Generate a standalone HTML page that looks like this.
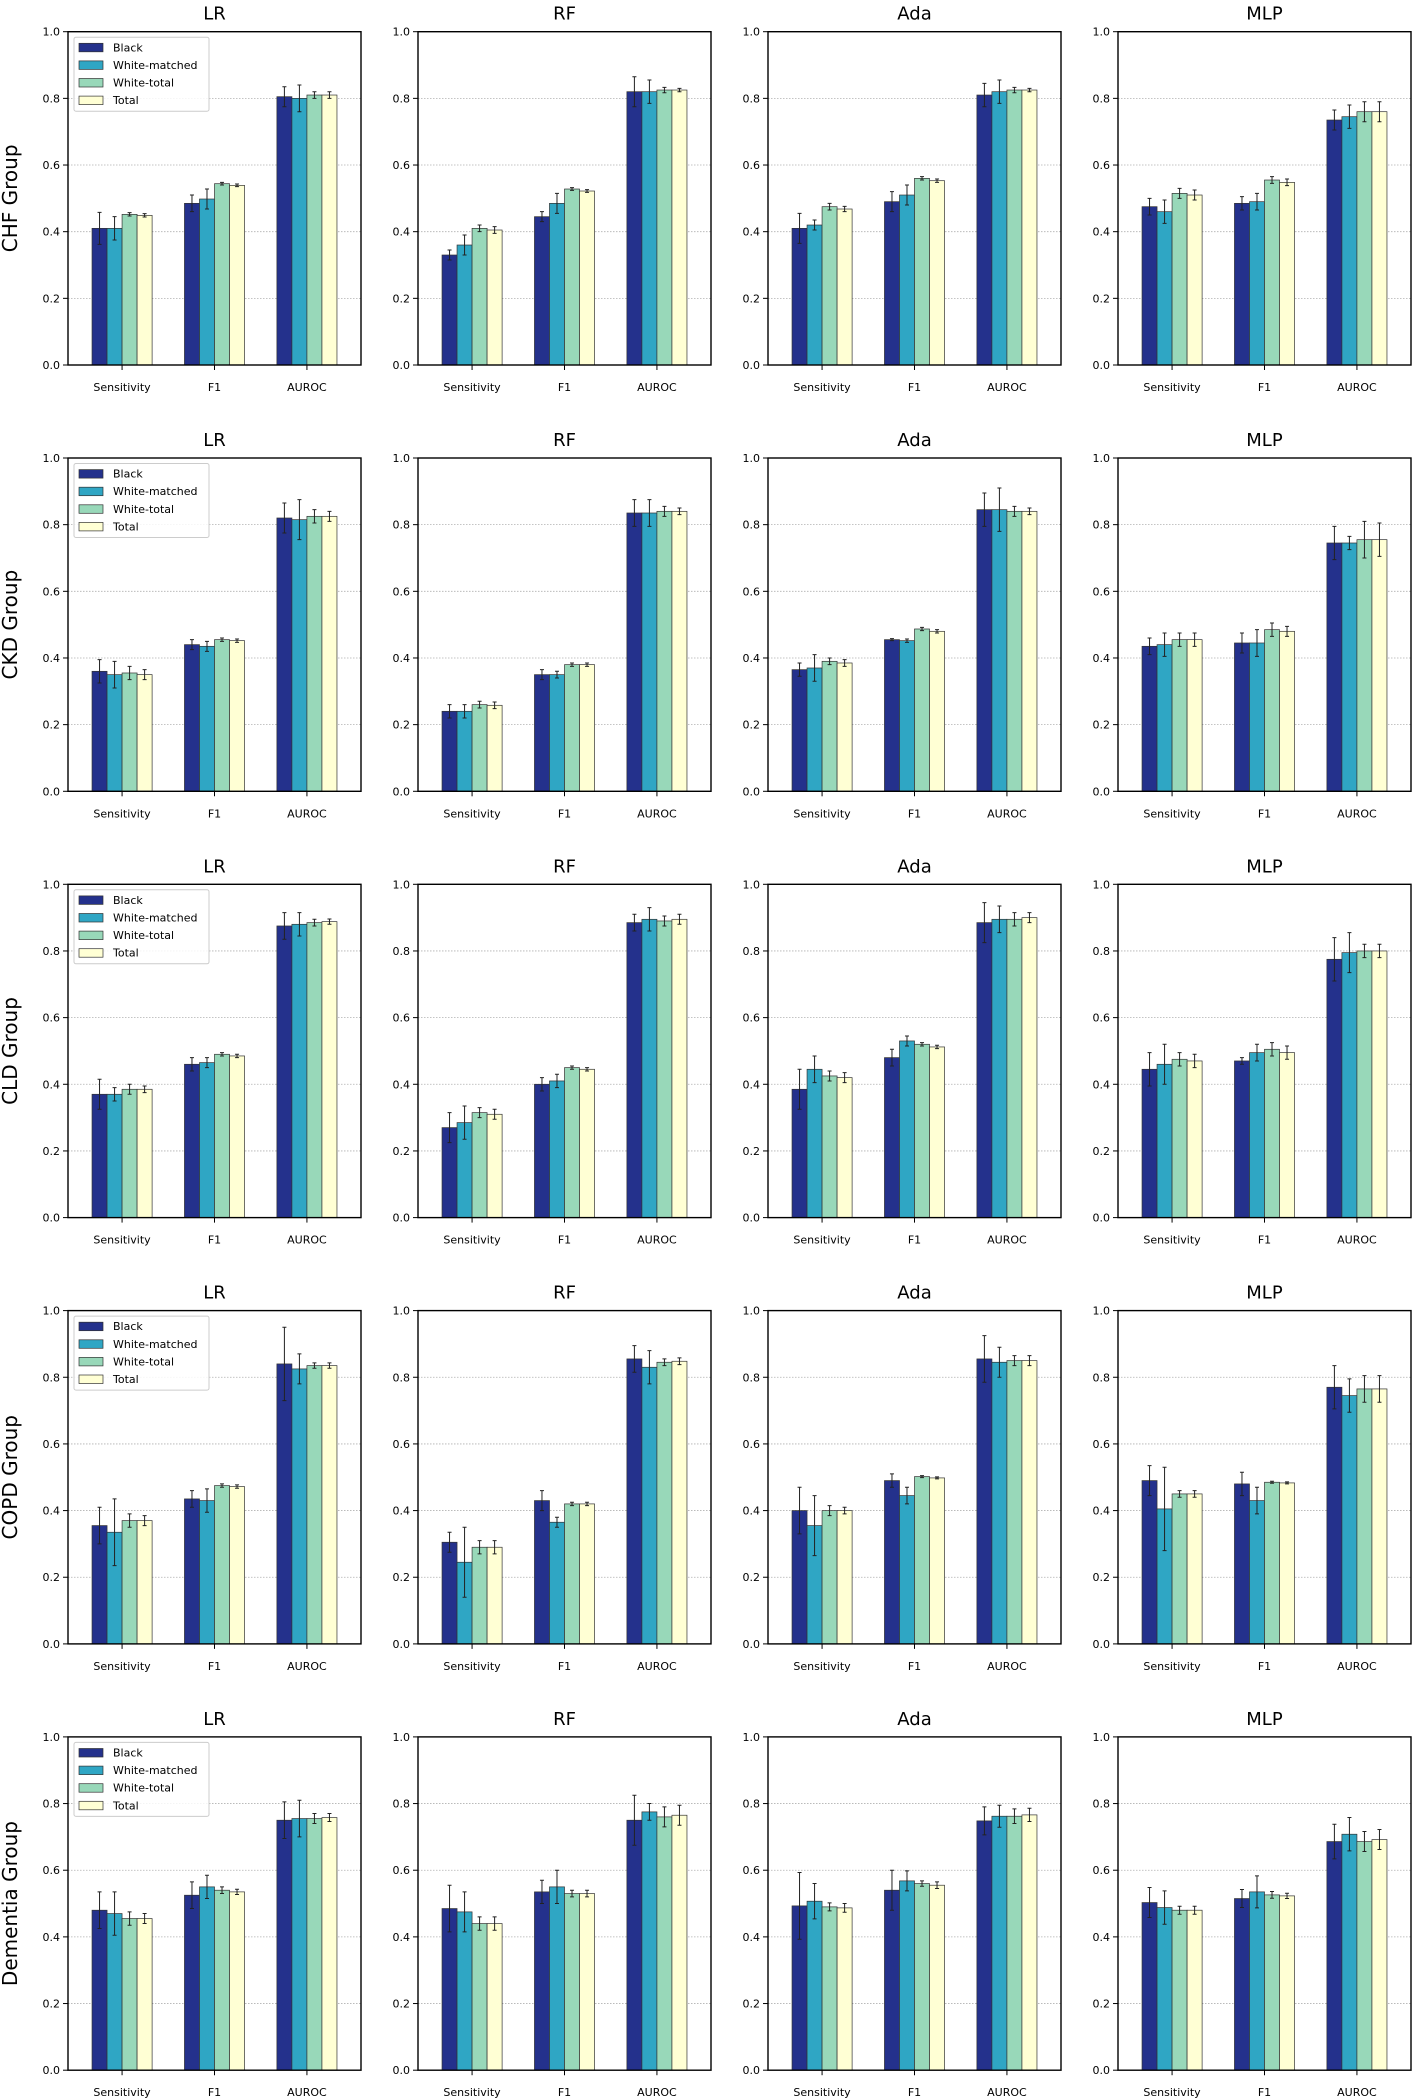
<!DOCTYPE html>
<html><head><meta charset="utf-8">
<style>
html,body{margin:0;padding:0;background:#fff;}
svg{display:block;font-family:"DejaVu Sans","Liberation Sans",sans-serif;}
</style></head>
<body>
<svg id="chart" width="1413" height="2100" viewBox="0 0 1413 2100" xmlns="http://www.w3.org/2000/svg"></svg>
<script>
const groups = ["CHF Group","CKD Group","CLD Group","COPD Group","Dementia Group"];
const models = ["LR","RF","Ada","MLP"];
const metrics = ["Sensitivity","F1","AUROC"];
const series = ["Black","White-matched","White-total","Total"];
const yTicks = [0,0.2,0.4,0.6,0.8,1.0];
const yTickLabels = ["0.0","0.2","0.4","0.6","0.8","1.0"];
// values[model][metric][series]
const chfValues = [
 [[0.41,0.41,0.452,0.449],[0.485,0.498,0.544,0.539],[0.805,0.80,0.81,0.81]],
 [[0.33,0.36,0.41,0.405],[0.445,0.485,0.528,0.522],[0.82,0.82,0.825,0.825]],
 [[0.41,0.42,0.475,0.468],[0.49,0.51,0.56,0.553],[0.81,0.82,0.825,0.825]],
 [[0.475,0.46,0.515,0.51],[0.485,0.49,0.555,0.548],[0.735,0.745,0.76,0.76]]];
const chfErrors = [
 [[0.048,0.035,0.005,0.005],[0.025,0.03,0.004,0.004],[0.03,0.04,0.01,0.01]],
 [[0.015,0.03,0.01,0.01],[0.015,0.03,0.004,0.004],[0.045,0.035,0.008,0.005]],
 [[0.045,0.015,0.01,0.008],[0.03,0.03,0.005,0.005],[0.035,0.035,0.008,0.005]],
 [[0.025,0.035,0.015,0.015],[0.02,0.025,0.01,0.01],[0.03,0.035,0.03,0.03]]];
const ckdValues = [
 [[0.36,0.35,0.355,0.35],[0.44,0.435,0.455,0.452],[0.82,0.815,0.825,0.825]],
 [[0.24,0.24,0.26,0.258],[0.35,0.35,0.38,0.38],[0.835,0.835,0.84,0.84]],
 [[0.365,0.37,0.39,0.385],[0.455,0.452,0.487,0.48],[0.845,0.845,0.84,0.84]],
 [[0.435,0.44,0.455,0.455],[0.445,0.445,0.485,0.48],[0.745,0.745,0.755,0.755]]];
const ckdErrors = [
 [[0.035,0.04,0.02,0.015],[0.015,0.015,0.005,0.005],[0.045,0.06,0.02,0.015]],
 [[0.02,0.02,0.01,0.01],[0.015,0.01,0.005,0.005],[0.04,0.04,0.015,0.01]],
 [[0.02,0.04,0.01,0.01],[0.003,0.005,0.005,0.005],[0.05,0.065,0.015,0.01]],
 [[0.025,0.035,0.02,0.02],[0.03,0.04,0.02,0.015],[0.05,0.02,0.055,0.05]]];
const cldValues = [
 [[0.37,0.37,0.385,0.385],[0.46,0.465,0.49,0.485],[0.875,0.88,0.885,0.888]],
 [[0.27,0.285,0.315,0.31],[0.40,0.41,0.45,0.445],[0.885,0.895,0.89,0.895]],
 [[0.385,0.445,0.425,0.42],[0.48,0.53,0.52,0.512],[0.885,0.895,0.895,0.9]],
 [[0.445,0.46,0.475,0.47],[0.47,0.495,0.505,0.495],[0.775,0.795,0.8,0.8]]];
const cldErrors = [
 [[0.045,0.02,0.015,0.01],[0.02,0.015,0.005,0.005],[0.04,0.035,0.01,0.008]],
 [[0.045,0.05,0.015,0.015],[0.02,0.02,0.005,0.005],[0.025,0.035,0.015,0.015]],
 [[0.06,0.04,0.015,0.015],[0.025,0.015,0.005,0.005],[0.06,0.04,0.02,0.015]],
 [[0.05,0.06,0.02,0.02],[0.01,0.025,0.02,0.02],[0.065,0.06,0.02,0.02]]];
const copdValues = [
 [[0.355,0.335,0.37,0.37],[0.435,0.43,0.475,0.472],[0.84,0.825,0.835,0.835]],
 [[0.305,0.245,0.29,0.29],[0.43,0.365,0.42,0.42],[0.855,0.83,0.845,0.848]],
 [[0.40,0.355,0.40,0.40],[0.49,0.445,0.502,0.498],[0.855,0.845,0.85,0.85]],
 [[0.49,0.405,0.45,0.45],[0.48,0.43,0.485,0.483],[0.77,0.745,0.765,0.765]]];
const copdErrors = [
 [[0.055,0.1,0.02,0.015],[0.025,0.035,0.005,0.005],[0.11,0.045,0.008,0.008]],
 [[0.03,0.105,0.02,0.02],[0.03,0.015,0.005,0.005],[0.04,0.05,0.01,0.01]],
 [[0.07,0.09,0.015,0.01],[0.02,0.025,0.003,0.003],[0.07,0.045,0.015,0.015]],
 [[0.045,0.125,0.01,0.01],[0.035,0.04,0.003,0.003],[0.065,0.05,0.04,0.04]]];
const dementiaValues = [
 [[0.48,0.47,0.455,0.455],[0.525,0.55,0.54,0.535],[0.75,0.755,0.755,0.758]],
 [[0.485,0.475,0.44,0.44],[0.535,0.55,0.53,0.53],[0.75,0.775,0.76,0.765]],
 [[0.493,0.507,0.49,0.487],[0.54,0.568,0.56,0.555],[0.748,0.762,0.762,0.766]],
 [[0.503,0.488,0.48,0.48],[0.515,0.535,0.526,0.523],[0.686,0.708,0.686,0.692]]];
const dementiaErrors = [
 [[0.055,0.065,0.02,0.015],[0.04,0.035,0.01,0.008],[0.055,0.055,0.015,0.012]],
 [[0.07,0.06,0.02,0.02],[0.035,0.05,0.01,0.01],[0.075,0.025,0.03,0.03]],
 [[0.1,0.053,0.012,0.013],[0.06,0.03,0.008,0.01],[0.042,0.033,0.022,0.02]],
 [[0.045,0.05,0.012,0.012],[0.027,0.048,0.01,0.008],[0.052,0.05,0.03,0.03]]];
const allValues = [chfValues,ckdValues,cldValues,copdValues,dementiaValues];
const allErrors = [chfErrors,ckdErrors,cldErrors,copdErrors,dementiaErrors];
const colors = ["#24318c","#2fa6c4","#98d8b9","#ffffd4"];

const NS = "http://www.w3.org/2000/svg";
const svg = document.getElementById("chart");
function mk(tag, attrs, parent, text){
  const e = document.createElementNS(NS, tag);
  for (const k in attrs) e.setAttribute(k, attrs[k]);
  if (text !== undefined) e.textContent = text;
  (parent||svg).appendChild(e);
  return e;
}
const colLeft = [68,418,768,1118], axW = 293, axH = 333.3;
const rowTop = r => 31.7 + r*426.3;
const xMin = -0.585, xMax = 2.585, barW = 0.1625;

groups.forEach((gname, r) => {
  const top = rowTop(r), bottom = top + axH;
  const yS = v => bottom - v*axH;
  models.forEach((mname, m) => {
    const left = colLeft[m];
    const xS = v => left + (v - xMin)/(xMax - xMin)*axW;
    const g = mk("g", {});
    
    
    // grid
    yTicks.forEach((t,i) => {
      if (t>0 && t<1) {
        const gl = mk("line",{x1:left,x2:left+axW,y1:yS(t),y2:yS(t),stroke:"#b0b0b0","stroke-width":0.8,"stroke-dasharray":"1.5,1.5"},g);
        
        
      }
      const tk = mk("line",{x1:left-5,x2:left,y1:yS(t),y2:yS(t),stroke:"#000","stroke-width":1},g);
      
      
      const tl = mk("text",{x:left-8,y:yS(t)+4,"text-anchor":"end","font-size":11,fill:"#000"},g,yTickLabels[i]);
      
      
    });
    // bars
    metrics.forEach((met, k) => {
      series.forEach((s, j) => {
        const v = allValues[r][m][k][j], e = allErrors[r][m][k][j];
        const xc = k + (j-1.5)*barW;
        const x0 = xS(xc - barW/2), x1 = xS(xc + barW/2);
        const b = mk("rect",{x:x0,y:yS(v),width:x1-x0,height:bottom-yS(v),fill:colors[j],stroke:"#333","stroke-width":0.7},g);
        
        
        const cx = xS(xc);
        const eb = mk("path",{d:`M${cx},${yS(v+e)}V${yS(v-e)}M${cx-2},${yS(v+e)}H${cx+2}M${cx-2},${yS(v-e)}H${cx+2}`,stroke:"#222","stroke-width":1,fill:"none"},g);
        
        
      });
      const xt = mk("line",{x1:xS(k),x2:xS(k),y1:bottom,y2:bottom+5,stroke:"#000","stroke-width":1},g);
      
      
      const xl = mk("text",{x:xS(k),y:bottom+26,"text-anchor":"middle","font-size":11,fill:"#000"},g,met);
      
      
    });
    const fr = mk("rect",{x:left,y:top,width:axW,height:axH,fill:"none",stroke:"#000","stroke-width":1.4},g);
    
    
    const ti = mk("text",{x:left+axW/2,y:top-12,"text-anchor":"middle","font-size":18,fill:"#000"},g,mname);
    
    
    if (m === 0) {
      const yl = mk("text",{x:17,y:top+axH/2,"text-anchor":"middle","font-size":20,fill:"#000",transform:`rotate(-90 17 ${top+axH/2})`},g,gname);
      
      
      const lg = mk("g",{},g);
      
      
      mk("rect",{x:left+6,y:top+5.5,width:135,height:74,rx:2,fill:"#fff","fill-opacity":0.85,stroke:"#ccc","stroke-width":1},lg);
      series.forEach((s,j) => {
        const yy = top + 15.6 + j*17.6;
        const p = mk("rect",{x:left+11,y:yy-4,width:24,height:8.5,fill:colors[j],stroke:"#333","stroke-width":0.7},lg);
        
        
        const t = mk("text",{x:left+45,y:yy+4,"font-size":11,fill:"#000"},lg,s);
        
        
      });
    }
  });
});
</script>
</body></html>
